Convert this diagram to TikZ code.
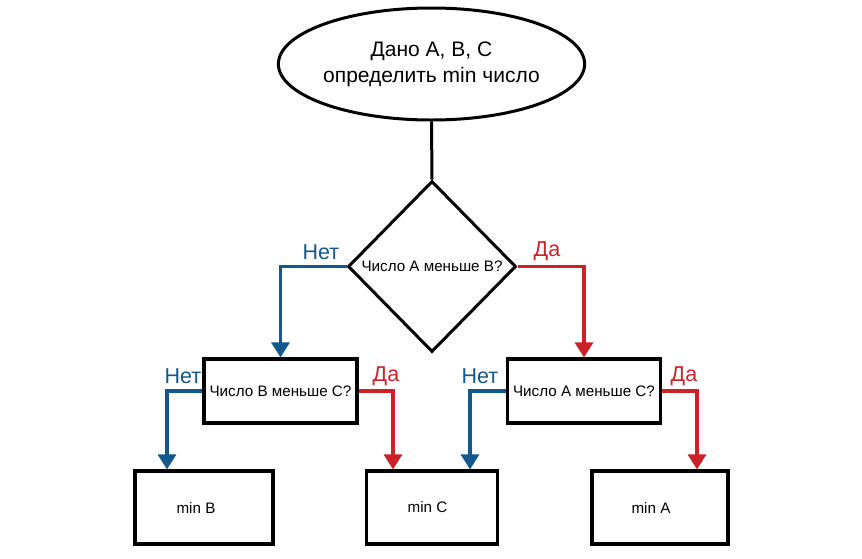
\documentclass[tikz,border=0pt]{standalone}
\usepackage{fontspec}
\setmainfont{Liberation Sans}
\usetikzlibrary{arrows.meta, shapes.geometric}
\definecolor{nocolor}{RGB}{18,88,140}
\definecolor{yescolor}{RGB}{205,33,41}

\begin{document}
\begin{tikzpicture}[x=1pt, y=-1pt,
    startnode/.style={draw, ellipse, line width=3pt, minimum width=303pt, minimum height=112pt, inner sep=0pt, align=center, font=\fontsize{21}{26}\selectfont},
    decision/.style={draw, diamond, line width=3pt, minimum width=168pt, minimum height=171pt, inner sep=0pt},
    question/.style={draw, rectangle, line width=3.2pt, minimum width=153pt, minimum height=64pt, inner sep=0pt, font=\fontsize{15.2}{18}\selectfont},
    result/.style={draw, rectangle, line width=3.2pt, minimum height=73pt, inner sep=0pt, font=\fontsize{15.2}{18}\selectfont},
    small/.style={font=\fontsize{15.2}{18}\selectfont},
    nolabel/.style={text=nocolor, font=\fontsize{21.5}{24}\selectfont},
    yeslabel/.style={text=yescolor, font=\fontsize{21.5}{24}\selectfont},
    noline/.style={draw=nocolor, line width=3.2pt, -{Triangle[width=18pt,length=15pt]}},
    yesline/.style={draw=yescolor, line width=3.2pt, -{Triangle[width=18pt,length=15pt]}}]
  \useasboundingbox (0,0) rectangle (862,558);
  % Start
  \node[startnode] (start) at (431.5,64) {Дано А, В, С\\определить min число};
  % First question
  \node[decision] (q1) at (432,266.5) {};
  \node[small] (q1text) at (q1) {Число А меньше В?};
  \draw[line width=3pt] (start.south) -- (q1.north);
  % Second row
  \node[question] (qB) at (280.5,391) {Число В меньше С?};
  \node[question] (qA) at (584,391) {Число А меньше С?};
  % Results
  \node[result, minimum width=138pt] (minB) at (204,507.5) {min B\kern16pt};
  \node[result, minimum width=131pt] (minC) at (432,507.5) {min C\kern9pt};
  \node[result, minimum width=136pt] (minA) at (660,507.5) {min A\kern18pt};
  % Connectors
  \draw[noline] (q1.west) -| (qB.north);
  \draw[yesline] (q1.east) -| (qA.north);
  \draw[noline] (qB.west) -| ([xshift=-37pt]minB.north);
  \draw[yesline] (qB.east) -| ([xshift=-39pt]minC.north);
  \draw[noline] (qA.west) -| ([xshift=38pt]minC.north);
  \draw[yesline] (qA.east) -| ([xshift=37pt]minA.north);
  % Labels
  \node[nolabel] (no1) at (321,252) {Нет};
  \node[yeslabel] (yes1) at (547,251) {Да};
  \node[nolabel] (no2) at (183,376) {Нет};
  \node[yeslabel] (yes2) at (386,376) {Да};
  \node[nolabel] (no3) at (480,376) {Нет};
  \node[yeslabel] (yes3) at (684,376) {Да};
\end{tikzpicture}
\end{document}
